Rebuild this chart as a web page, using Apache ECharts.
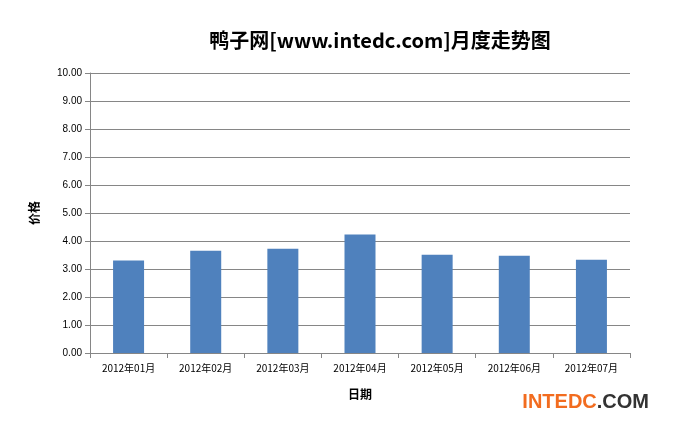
<!DOCTYPE html><html><head><meta charset="utf-8"><script src="https://cdn.jsdelivr.net/npm/echarts@6/dist/echarts.min.js"></script></head><body style="margin:0"><div id="c" style="width:673px;height:424px"></div><script>
var categories=['2012年01月','2012年02月','2012年03月','2012年04月','2012年05月','2012年06月','2012年07月'];
var prices=[3.30,3.65,3.72,4.23,3.51,3.47,3.33];
var c=echarts.init(document.getElementById('c'));
c.setOption({backgroundColor:'#fff',
title:{text:'鸭子网[www.intedc.com]月度走势图',left:375,top:25,textAlign:'center',textStyle:{fontSize:20,fontWeight:'bold',color:'#000',fontFamily:'Noto Sans CJK SC'}},
grid:{left:90,right:43,top:73,bottom:71},
xAxis:{type:'category',data:categories,name:'日期',nameLocation:'middle',nameGap:35,nameTextStyle:{fontWeight:'bold',fontSize:12,color:'#000',fontFamily:'Noto Sans CJK SC'},
axisLine:{lineStyle:{color:'#868686'}},axisTick:{show:true,alignWithLabel:false,lineStyle:{color:'#868686'}},axisLabel:{color:'#000',fontSize:10,margin:10,fontFamily:'Noto Sans CJK SC'}},
yAxis:{type:'value',min:0,max:10,interval:1,name:'价格',nameLocation:'middle',nameGap:50,nameRotate:90,nameTextStyle:{fontWeight:'bold',fontSize:12,color:'#000',fontFamily:'Noto Sans CJK SC'},
axisLine:{show:true,lineStyle:{color:'#868686'}},axisTick:{show:true,lineStyle:{color:'#868686'}},axisLabel:{formatter:function(v){return v.toFixed(2)},color:'#000',fontSize:10},splitLine:{lineStyle:{color:'#868686'}}},
series:[{type:'bar',data:prices,barWidth:31,itemStyle:{color:'#4F81BD'}}],
graphic:[{type:'text',right:24,bottom:12,style:{rich:{a:{fill:'#F26C1F',fontSize:20,fontWeight:'bold',fontFamily:'Liberation Sans'},b:{fill:'#333',fontSize:20,fontWeight:'bold',fontFamily:'Liberation Sans'}},text:'{a|INTEDC}{b|.COM}'}}]
});
</script></body></html>
